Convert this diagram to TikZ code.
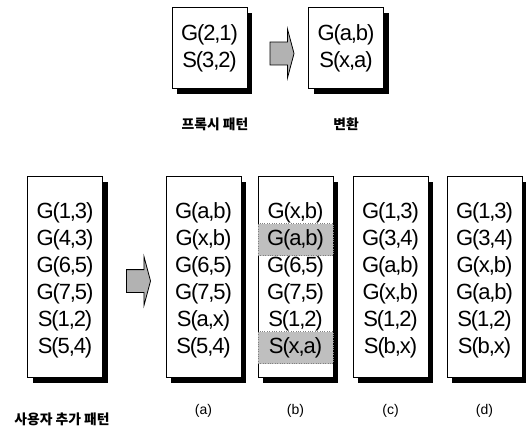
\documentclass[tikz,border=0pt]{standalone}
\usepackage{fontspec}
\setmainfont{Liberation Sans}
\newfontfamily\cellfont{Liberation Sans}[LetterSpace=-5]
\newfontfamily\krfont{Noto Sans CJK KR}
\usetikzlibrary{shadows,shapes.arrows}

\tikzset{
  patbox/.style={draw=black, fill=white, line width=0.7pt, minimum width=75pt, inner sep=0pt,
    drop shadow={shadow xshift=5pt, shadow yshift=-6pt, fill=black, opacity=1}},
  cell/.style={font=\cellfont\fontsize{22}{24}\selectfont, inner sep=0pt},
  tag/.style={font=\fontsize{14}{15}\selectfont, inner sep=0pt},
  krtag/.style={font=\krfont\bfseries\fontsize{13.8}{15}\selectfont, inner sep=0pt},
  blockarrow/.style={single arrow, draw=black, fill=black!30, line width=0.8pt,
    minimum height=24pt, inner xsep=0pt, inner ysep=11pt, single arrow head extend=13pt,
    single arrow tip angle=150},
  hilite/.style={fill=black!25, draw=black!50, dotted, minimum width=75pt, minimum height=32pt, inner sep=0pt}
}

% rows of one pattern box: #1 box name, #2 first row offset, #3 entries
\newcommand\fillrows[3]{%
  \foreach \t [count=\r] in {#3}
    \node[cell] (#1-\r) at ([yshift={-(#2+27*(\r-1))*1pt}]#1.north) {\t};
}

\begin{document}
\begin{tikzpicture}[x=1pt, y=-1pt]
    \useasboundingbox (0,0) rectangle (526,428);

    % top: proxy pattern and its conversion
    \node[patbox, minimum height=81pt] (proxy) at (209.5,47.5) {};
    \node[patbox, minimum height=81pt] (conv) at (346,47.5) {};
    \fillrows{proxy}{28}{{G(2,1)},{S(3,2)}}
    \fillrows{conv}{28}{{G(a,b)},{S(x,a)}}
    \node[blockarrow] (toparrow) at (280.5,53.5) {};
    \node[krtag] (proxytag) at (215,124) {프록시 패턴};
    \node[krtag] (convtag) at (346,124) {변환};

    % bottom: user pattern and results
    \node[patbox, minimum height=201pt] (user) at (65,276.5) {};
    \node[patbox, minimum height=201pt] (ca) at (203.5,276.5) {};
    \node[patbox, minimum height=201pt] (cb) at (295.5,276.5) {};
    \node[patbox, minimum height=201pt] (cc) at (390.5,276.5) {};
    \node[patbox, minimum height=201pt] (cd) at (484.5,276.5) {};
    \node[hilite] (hl-2) at ([yshift=-64pt]cb.north) {};
    \node[hilite] (hl-6) at ([yshift=-172pt]cb.north) {};
    \fillrows{user}{37}{{G(1,3)},{G(4,3)},{G(6,5)},{G(7,5)},{S(1,2)},{S(5,4)}}
    \fillrows{ca}{37}{{G(a,b)},{G(x,b)},{G(6,5)},{G(7,5)},{S(a,x)},{S(5,4)}}
    \fillrows{cb}{37}{{G(x,b)},{G(a,b)},{G(6,5)},{G(7,5)},{S(1,2)},{S(x,a)}}
    \fillrows{cc}{37}{{G(1,3)},{G(3,4)},{G(a,b)},{G(x,b)},{S(1,2)},{S(b,x)}}
    \fillrows{cd}{37}{{G(1,3)},{G(3,4)},{G(x,b)},{G(a,b)},{S(1,2)},{S(b,x)}}
    \node[blockarrow] (botarrow) at (137,281) {};

    \node[krtag] (usertag) at (62,419) {사용자 추가 패턴};
    \node[tag] (tag-a) at (203.5,411) {(a)};
    \node[tag] (tag-b) at (295.5,411) {(b)};
    \node[tag] (tag-c) at (390.5,411) {(c)};
    \node[tag] (tag-d) at (484.5,411) {(d)};
\end{tikzpicture}
\end{document}
